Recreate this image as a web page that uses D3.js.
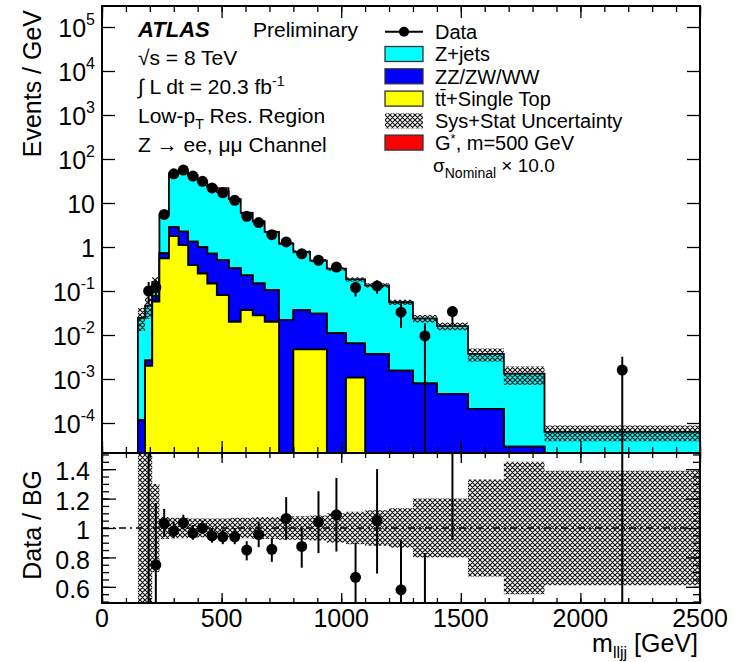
<!DOCTYPE html>
<html>
<head>
<meta charset="utf-8">
<script src="https://cdn.jsdelivr.net/npm/d3@7"></script>
<style>
    body { margin: 0; background: #fff; }
    svg text { font-family: "Liberation Sans", Arial, sans-serif; fill: #000; }
</style>
</head>
<body>
<svg id="chart" width="741" height="662"></svg>
<script>
// m_lljj binning (GeV)
const binEdges = [150, 180, 210, 240, 280, 320, 360, 400, 440, 480, 530, 580, 630, 680, 740,
    800, 870, 940, 1020, 1100, 1200, 1300, 1400, 1530, 1680, 1850, 2500];

// backgrounds, events / GeV
const zJets = [0.0244, 0.044, 0.084, 4.7, 44, 52, 40.7, 30, 22.3, 17.5, 11.9, 5.7, 3.65, 2.1, 1.18,
    0.74, 0.46, 0.31, 0.178, 0.131, 0.054, 0.023, 0.0155, 0.0035, 0.0013, 0.000063];
const diboson = [0.000117, 0.00063, 0.019, 0.17, 1.04, 1.13, 0.93, 0.75, 0.56, 0.42, 0.31, 0.19, 0.12,
    0.085, 0.022, 0.032, 0.026, 0.011, 0.0054, 0.0037, 0.00155, 0.00079, 0.00046, 0.00021, 0.000029, 0];
const ttbar = [0, 0.002, 0.0575, 0.55, 1.78, 1.11, 0.39, 0.25, 0.148, 0.081, 0.020, 0.037, 0.028, 0.020,
    0, 0.0047, 0.0047, 0, 0.00107, 0, 0, 0, 0, 0, 0, 0];
// G*, m=500 GeV (x10), stacked on top
const signal = [0, 0, 0, 0, 0, 0, 0, 0, 0, 4, 0, 0, 0, 0, 0, 0, 0, 0, 0, 0, 0, 0, 0, 0, 0, 0];

// data
const dataVal = [null, 0.10, 0.12, 5.5, 46, 56, 41, 31, 22, 17, 11.5, 5.0, 3.6, 1.9, 1.3, 0.70, 0.50,
    0.35, 0.12, 0.13, 0.033, 0.0095, 0.034, null, null, 0.0016];
const dataHi = [null, 0.16, 0.18, null, null, null, null, null, null, null, null, null, null, null, null,
    null, null, null, 0.16, 0.175, 0.052, 0.0185, 0.045, null, null, 0.0032];
const dataLo = [null, 0.05, 0.06, null, null, null, null, null, null, null, null, null, null, null, null,
    null, null, null, 0.075, 0.087, 0.0145, 0, 0.017, null, null, 0];

// relative sys+stat uncertainty on total background
const uncRel = [0.7, 0.55, 0.3, 0.075, 0.07, 0.07, 0.065, 0.065, 0.065, 0.065, 0.07, 0.07, 0.075, 0.075,
    0.08, 0.08, 0.085, 0.1, 0.11, 0.12, 0.135, 0.2, 0.2, 0.33, 0.45, 0.39];

// Data / BG
const ratioVal = [null, 2.2, 0.75, 1.03, 0.98, 1.035, 0.965, 1.0, 0.946, 0.94, 0.94, 0.85, 0.955, 0.855,
    1.065, 0.875, 1.04, 1.09, 0.665, 1.05, 0.58, 0.4, 2.1, null, null, 25];
const ratioHi = [null, 3.3, 1.17, 1.13, 1.04, 1.09, 1.02, 1.05, 1.0, 0.99, 1.0, 0.91, 1.04, 0.93,
    1.21, 1.0, 1.25, 1.34, 0.90, 1.40, 0.92, 0.83, 3.0, null, null, 50];
const ratioLo = [null, 0.3, 0.4, 0.94, 0.93, 0.99, 0.92, 0.96, 0.9, 0.89, 0.89, 0.78, 0.87, 0.77,
    0.92, 0.73, 0.83, 0.84, 0.4, 0.69, 0.3, 0.0, 0.92, null, null, 0];

// tick labels
const logTicks = [1e-4, 1e-3, 1e-2, 1e-1, 1, 10, 1e2, 1e3, 1e4, 1e5];
const logLabels = [['10', '-4'], ['10', '-3'], ['10', '-2'], ['10', '-1'], ['1', ''], ['10', ''],
    ['10', '2'], ['10', '3'], ['10', '4'], ['10', '5']];
const xTicks = [0, 500, 1000, 1500, 2000, 2500];
const xTickLabels = ['0', '500', '1000', '1500', '2000', '2500'];
const ratioTicks = [0.6, 0.8, 1, 1.2, 1.4];
const ratioLabels = ['0.6', '0.8', '1', '1.2', '1.4'];

const colors = { tt: '#ffff00', vv: '#0000ff', zj: '#00ffff', sig: '#ff0000' };

const frame = { left: 102, right: 700, top: 6, mid: 453, bottom: 603 };

const svg = d3.select('#chart');
const x = d3.scaleLinear().domain([0, 2500]).range([frame.left, frame.right]);
const y = d3.scaleLog().domain([2.08e-5, 3e5]).range([frame.mid, frame.top]).clamp(true);
const yr = d3.scaleLinear().domain([0.49, 1.51]).range([frame.bottom, frame.mid]).clamp(true);
const yMin = y.domain()[0];
const Y = v => y(Math.max(v, yMin));

const defs = svg.append('defs');
const hatch = defs.append('pattern')
    .attr('id', 'hatch')
    .attr('patternUnits', 'userSpaceOnUse')
    .attr('width', 5).attr('height', 5);
hatch.append('path')
    .attr('d', 'M0,0 L5,5 M5,0 L0,5 M-1,4 L1,6 M4,-1 L6,1 M-1,1 L1,-1 M4,6 L6,4')
    .attr('stroke', '#111').attr('stroke-width', 1.15).attr('fill', 'none');

defs.append('clipPath').attr('id', 'clipTop').append('rect')
    .attr('x', frame.left).attr('y', frame.top)
    .attr('width', frame.right - frame.left).attr('height', frame.mid - frame.top);
defs.append('clipPath').attr('id', 'clipRatio').append('rect')
    .attr('x', frame.left).attr('y', frame.mid)
    .attr('width', frame.right - frame.left).attr('height', frame.bottom - frame.mid);

const nBins = binEdges.length - 1;
const centers = binEdges.slice(0, -1).map((lo, i) => (lo + binEdges[i + 1]) / 2);
const rows = d3.range(nBins).map(i => ({ tt: ttbar[i], vv: diboson[i], zj: zJets[i] }));
const stacked = d3.stack().keys(['tt', 'vv', 'zj'])(rows);
const totalBg = rows.map(r => r.tt + r.vv + r.zj);

// turn per-bin [lo, hi] pairs into step points
function toSteps(pairs) {
    const pts = pairs.map((p, i) => ({ x: binEdges[i], y0: p[0], y1: p[1] }));
    const last = pts[pts.length - 1];
    pts.push({ x: binEdges[nBins], y0: last.y0, y1: last.y1 });
    return pts;
}

const stepArea = d3.area()
    .curve(d3.curveStepAfter)
    .x(d => x(d.x))
    .y0(d => Y(d.y0))
    .y1(d => Y(d.y1));

// ---------- top panel ----------
const mainPanel = svg.append('g').attr('clip-path', 'url(#clipTop)');

stacked.slice().reverse().forEach(layer => {
    mainPanel.append('path')
        .attr('d', stepArea(toSteps(layer.map(d => [d[0], d[1]]))))
        .attr('fill', colors[layer.key])
        .attr('stroke', '#000')
        .attr('stroke-width', 1.8)
        .attr('stroke-linejoin', 'miter');
});

// signal
signal.forEach((s, i) => {
    if (!s) return;
    mainPanel.append('rect')
        .attr('x', x(binEdges[i]))
        .attr('y', Y(totalBg[i] + s))
        .attr('width', x(binEdges[i + 1]) - x(binEdges[i]))
        .attr('height', Y(totalBg[i]) - Y(totalBg[i] + s))
        .attr('fill', colors.sig)
        .attr('stroke', '#000')
        .attr('stroke-width', 1.2);
});

// uncertainty band
mainPanel.append('path')
    .attr('d', stepArea(toSteps(totalBg.map((t, i) => [t * (1 - Math.min(uncRel[i], 0.5)), t * (1 + uncRel[i])]))))
    .attr('fill', 'url(#hatch)');

// data
dataVal.forEach((v, i) => {
    if (v == null) return;
    if (dataHi[i] != null) {
        mainPanel.append('line')
            .attr('x1', x(centers[i])).attr('x2', x(centers[i]))
            .attr('y1', Y(dataLo[i])).attr('y2', Y(dataHi[i]))
            .attr('stroke', '#000').attr('stroke-width', 2);
    }
    mainPanel.append('circle')
        .attr('cx', x(centers[i])).attr('cy', Y(v))
        .attr('r', 5.5).attr('fill', '#000');
});

// ---------- ratio panel ----------
const ratioPanel = svg.append('g').attr('clip-path', 'url(#clipRatio)');

const ratioArea = d3.area()
    .curve(d3.curveStepAfter)
    .x(d => x(d.x))
    .y0(d => yr(d.y0))
    .y1(d => yr(d.y1));

ratioPanel.append('path')
    .attr('d', ratioArea(toSteps(uncRel.map(u => [1 - u, 1 + u]))))
    .attr('fill', 'url(#hatch)');

ratioPanel.append('line')
    .attr('x1', frame.left).attr('x2', frame.right)
    .attr('y1', yr(1)).attr('y2', yr(1))
    .attr('stroke', '#000').attr('stroke-width', 1.5)
    .attr('stroke-dasharray', '7,4,2,4');

ratioVal.forEach((v, i) => {
    if (v == null) return;
    ratioPanel.append('line')
        .attr('x1', x(centers[i])).attr('x2', x(centers[i]))
        .attr('y1', yr(ratioLo[i])).attr('y2', yr(ratioHi[i]))
        .attr('stroke', '#000').attr('stroke-width', 2);
    if (v >= 0.49 && v <= 1.51) {
        ratioPanel.append('circle')
            .attr('cx', x(centers[i])).attr('cy', yr(v))
            .attr('r', 5.5).attr('fill', '#000');
    }
});

// ---------- frames & axes ----------
function tickAxis(axis, transform) {
    const g = svg.append('g').attr('transform', transform).call(axis);
    g.select('.domain').remove();
    g.selectAll('line').attr('stroke', '#000').attr('stroke-width', 1.3);
    return g;
}
const minorX = d3.range(0, 2501, 100);
const majorLog = logTicks;
const minorLog = y.ticks().filter(v => !majorLog.some(m => Math.abs(v / m - 1) < 1e-6));
const minorRatio = d3.range(0.5, 1.501, 0.05);

// top panel
tickAxis(d3.axisBottom(x).tickValues(xTicks).tickSize(-12).tickFormat(''), `translate(0,${frame.mid})`);
tickAxis(d3.axisBottom(x).tickValues(minorX).tickSize(-6).tickFormat(''), `translate(0,${frame.mid})`);
tickAxis(d3.axisTop(x).tickValues(xTicks).tickSize(-12).tickFormat(''), `translate(0,${frame.top})`);
tickAxis(d3.axisTop(x).tickValues(minorX).tickSize(-6).tickFormat(''), `translate(0,${frame.top})`);
tickAxis(d3.axisLeft(y).tickValues(majorLog).tickSize(-13).tickFormat(''), `translate(${frame.left},0)`);
tickAxis(d3.axisLeft(y).tickValues(minorLog).tickSize(-7).tickFormat(''), `translate(${frame.left},0)`);
tickAxis(d3.axisRight(y).tickValues(majorLog).tickSize(-13).tickFormat(''), `translate(${frame.right},0)`);
tickAxis(d3.axisRight(y).tickValues(minorLog).tickSize(-7).tickFormat(''), `translate(${frame.right},0)`);

// ratio panel
tickAxis(d3.axisBottom(x).tickValues(xTicks).tickSize(-10).tickFormat(''), `translate(0,${frame.bottom})`);
tickAxis(d3.axisBottom(x).tickValues(minorX).tickSize(-5).tickFormat(''), `translate(0,${frame.bottom})`);
tickAxis(d3.axisTop(x).tickValues(xTicks).tickSize(-10).tickFormat(''), `translate(0,${frame.mid})`);
tickAxis(d3.axisTop(x).tickValues(minorX).tickSize(-5).tickFormat(''), `translate(0,${frame.mid})`);
tickAxis(d3.axisLeft(yr).tickValues(ratioTicks).tickSize(-14).tickFormat(''), `translate(${frame.left},0)`);
tickAxis(d3.axisLeft(yr).tickValues(minorRatio).tickSize(-7).tickFormat(''), `translate(${frame.left},0)`);
tickAxis(d3.axisRight(yr).tickValues(ratioTicks).tickSize(-14).tickFormat(''), `translate(${frame.right},0)`);
tickAxis(d3.axisRight(yr).tickValues(minorRatio).tickSize(-7).tickFormat(''), `translate(${frame.right},0)`);

svg.append('rect')
    .attr('x', frame.left).attr('y', frame.top)
    .attr('width', frame.right - frame.left).attr('height', frame.bottom - frame.top)
    .attr('fill', 'none').attr('stroke', '#000').attr('stroke-width', 2);
svg.append('line')
    .attr('x1', frame.left).attr('x2', frame.right)
    .attr('y1', frame.mid).attr('y2', frame.mid)
    .attr('stroke', '#000').attr('stroke-width', 2);

// tick labels
logTicks.forEach((v, i) => {
    const t = svg.append('text')
        .attr('x', 95).attr('y', y(v)).attr('dy', '0.4em')
        .attr('text-anchor', 'end')
        .style('font-size', '25px');
    t.append('tspan').text(logLabels[i][0]);
    if (logLabels[i][1]) {
        t.append('tspan').attr('dy', '-0.75em').style('font-size', '16px').text(logLabels[i][1]);
    }
});
ratioTicks.forEach((v, i) => {
    svg.append('text')
        .attr('x', 90).attr('y', yr(v)).attr('dy', '0.45em')
        .attr('text-anchor', 'end')
        .style('font-size', '25px')
        .text(ratioLabels[i]);
});
xTicks.forEach((v, i) => {
    svg.append('text')
        .attr('x', x(v)).attr('y', 627)
        .attr('text-anchor', 'middle')
        .style('font-size', '25px')
        .text(xTickLabels[i]);
});

// axis titles
svg.append('text')
    .attr('transform', 'translate(41,10) rotate(-90)')
    .attr('text-anchor', 'end')
    .style('font-size', '25px')
    .text('Events / GeV');
svg.append('text')
    .attr('transform', 'translate(41,470) rotate(-90)')
    .attr('text-anchor', 'end')
    .style('font-size', '25px')
    .text('Data / BG');
const xTitle = svg.append('text')
    .attr('x', 698).attr('y', 652)
    .attr('text-anchor', 'end')
    .style('font-size', '25px');
xTitle.append('tspan').text('m');
xTitle.append('tspan').attr('dy', 6).style('font-size', '16px').text('lljj');
xTitle.append('tspan').attr('dy', -6).text(' [GeV]');

// ATLAS labels
svg.append('text')
    .attr('x', 138).attr('y', 37)
    .style('font-size', '22px').style('font-weight', 'bold').style('font-style', 'italic')
    .text('ATLAS');
svg.append('text')
    .attr('x', 253).attr('y', 37)
    .style('font-size', '21px')
    .text('Preliminary');
svg.append('text')
    .attr('x', 138).attr('y', 65)
    .style('font-size', '21px')
    .text('\u221As = 8 TeV');
const lumi = svg.append('text')
    .attr('x', 138).attr('y', 94)
    .style('font-size', '21px');
lumi.append('tspan').text('\u222B L dt = 20.3 fb');
lumi.append('tspan').attr('dy', -8).style('font-size', '14px').text('-1');
const region = svg.append('text')
    .attr('x', 138).attr('y', 123)
    .style('font-size', '21px');
region.append('tspan').text('Low-p');
region.append('tspan').attr('dy', 6).style('font-size', '14px').text('T');
region.append('tspan').attr('dy', -6).text(' Res. Region');
svg.append('text')
    .attr('x', 138).attr('y', 152)
    .style('font-size', '21px')
    .text('Z \u2192 ee, \u03BC\u03BC Channel');

// legend
const legX = 385, legW = 38, legTextX = 435;
const legRows = [31.7, 54, 76.3, 98.6, 120.9, 142.6];
const lg = svg.append('g');
lg.append('line')
    .attr('x1', legX).attr('x2', legX + legW)
    .attr('y1', legRows[0]).attr('y2', legRows[0])
    .attr('stroke', '#000').attr('stroke-width', 2);
lg.append('circle').attr('cx', legX + legW / 2).attr('cy', legRows[0]).attr('r', 5).attr('fill', '#000');

const boxes = [
    { row: 1, fill: colors.zj },
    { row: 2, fill: colors.vv },
    { row: 3, fill: colors.tt },
    { row: 4, fill: 'url(#hatch)' },
    { row: 5, fill: colors.sig }
];
boxes.forEach(b => {
    lg.append('rect')
        .attr('x', legX).attr('y', legRows[b.row] - 7.5)
        .attr('width', legW).attr('height', 15)
        .attr('fill', b.fill)
        .attr('stroke', b.row === 4 ? 'none' : '#333')
        .attr('stroke-width', 1.3);
});

const legText = (row, txt) => lg.append('text')
    .attr('x', legTextX).attr('y', legRows[row]).attr('dy', '0.36em')
    .style('font-size', '20px')
    .text(txt);
legText(0, 'Data');
legText(1, 'Z+jets');
legText(2, 'ZZ/ZW/WW');
legText(3, 't\u0074\u0304+Single Top');
legText(4, 'Sys+Stat Uncertainty');
const gTxt = lg.append('text')
    .attr('x', legTextX).attr('y', legRows[5]).attr('dy', '0.36em')
    .style('font-size', '20px');
gTxt.append('tspan').text('G');
gTxt.append('tspan').attr('dy', -7).style('font-size', '13px').text('*');
gTxt.append('tspan').attr('dy', 7).text(', m=500 GeV');
const sTxt = lg.append('text')
    .attr('x', 433).attr('y', 172)
    .style('font-size', '19px');
sTxt.append('tspan').text('\u03C3');
sTxt.append('tspan').attr('dy', 6).style('font-size', '14px').text('Nominal');
sTxt.append('tspan').attr('dy', -6).text(' \u00D7 10.0');
</script>
</body>
</html>
